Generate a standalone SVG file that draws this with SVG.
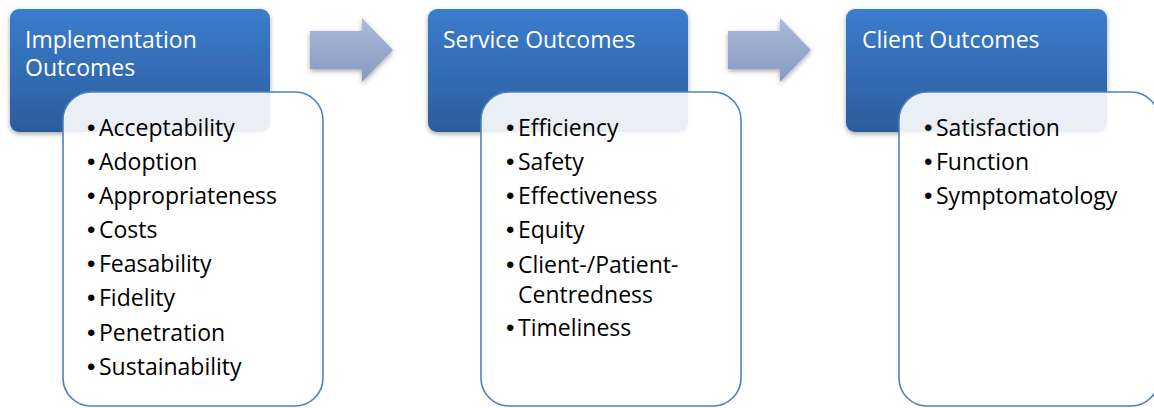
<svg xmlns="http://www.w3.org/2000/svg" width="1154" height="408" viewBox="0 0 1154 408">
<defs>
<linearGradient id="gBlue" x1="0" y1="0" x2="0" y2="1">
<stop offset="0" stop-color="#3b7dcd"/>
<stop offset="1" stop-color="#2c5c9c"/>
</linearGradient>
<linearGradient id="gArrow" x1="0" y1="0" x2="0" y2="1">
<stop offset="0" stop-color="#a9bad9"/>
<stop offset="1" stop-color="#8899c0"/>
</linearGradient>
<filter id="sh" x="-10%" y="-10%" width="120%" height="125%">
<feDropShadow dx="0" dy="2" stdDeviation="2.5" flood-color="#000" flood-opacity="0.35"/>
</filter>
</defs>
<style>
.hdr{fill:url(#gBlue);filter:url(#sh)}
.lst{fill:#fff;fill-opacity:0.9;stroke:#4f81bd;stroke-width:1.6}
.arr{fill:url(#gArrow);filter:url(#sh)}
.ht{font-family:"Open Sans","Liberation Sans",sans-serif;font-size:23px;fill:#fff}
.bt{font-family:"Open Sans","Liberation Sans",sans-serif;font-size:23px;fill:#000}
.b{font-family:"Liberation Sans",Arial,sans-serif;font-size:24px}
</style>
<rect width="1154" height="408" fill="#fff"/>
<g id="connectors">
<path class="arr" d="M310,31 H362 V18 L393,50 L362,82 V69 H310 Z"/>
<path class="arr" d="M728,31 H780 V18 L811,50 L780,82 V69 H728 Z"/>
</g>
<g id="node-implementation">
<rect class="hdr" x="10" y="9" width="260" height="123" rx="9"/>
<text class="ht"><tspan x="25" y="48">Implementation</tspan><tspan x="25" y="76">Outcomes</tspan></text>
<rect class="lst" x="63" y="92" width="260" height="314" rx="28"/>
<text class="bt"><tspan class="b" x="87" y="136">•</tspan><tspan x="99" y="136">Acceptability</tspan></text>
<text class="bt"><tspan class="b" x="87" y="170">•</tspan><tspan x="99" y="170">Adoption</tspan></text>
<text class="bt"><tspan class="b" x="87" y="204">•</tspan><tspan x="99" y="204">Appropriateness</tspan></text>
<text class="bt"><tspan class="b" x="87" y="238">•</tspan><tspan x="99" y="238">Costs</tspan></text>
<text class="bt"><tspan class="b" x="87" y="272">•</tspan><tspan x="99" y="272">Feasability</tspan></text>
<text class="bt"><tspan class="b" x="87" y="306">•</tspan><tspan x="99" y="306">Fidelity</tspan></text>
<text class="bt"><tspan class="b" x="87" y="341">•</tspan><tspan x="99" y="341">Penetration</tspan></text>
<text class="bt"><tspan class="b" x="87" y="375">•</tspan><tspan x="99" y="375">Sustainability</tspan></text>
</g>
<g id="node-service">
<rect class="hdr" x="428" y="9" width="260" height="123" rx="9"/>
<text class="ht" x="443" y="48">Service Outcomes</text>
<rect class="lst" x="481" y="92" width="260" height="314" rx="28"/>
<text class="bt"><tspan class="b" x="506" y="136">•</tspan><tspan x="518" y="136">Efficiency</tspan></text>
<text class="bt"><tspan class="b" x="506" y="170">•</tspan><tspan x="518" y="170">Safety</tspan></text>
<text class="bt"><tspan class="b" x="506" y="204">•</tspan><tspan x="518" y="204">Effectiveness</tspan></text>
<text class="bt"><tspan class="b" x="506" y="238">•</tspan><tspan x="518" y="238">Equity</tspan></text>
<text class="bt"><tspan class="b" x="506" y="273">•</tspan><tspan x="518" y="273">Client-/Patient-</tspan><tspan x="518" y="303">Centredness</tspan></text>
<text class="bt"><tspan class="b" x="506" y="336">•</tspan><tspan x="518" y="336">Timeliness</tspan></text>
</g>
<g id="node-client">
<rect class="hdr" x="846" y="9" width="261" height="123" rx="9"/>
<text class="ht" x="862" y="48">Client Outcomes</text>
<rect class="lst" x="899" y="92" width="260" height="314" rx="28"/>
<text class="bt"><tspan class="b" x="924" y="136">•</tspan><tspan x="936" y="136">Satisfaction</tspan></text>
<text class="bt"><tspan class="b" x="924" y="170">•</tspan><tspan x="936" y="170">Function</tspan></text>
<text class="bt"><tspan class="b" x="924" y="204">•</tspan><tspan x="936" y="204">Symptomatology</tspan></text>
</g>
</svg>
